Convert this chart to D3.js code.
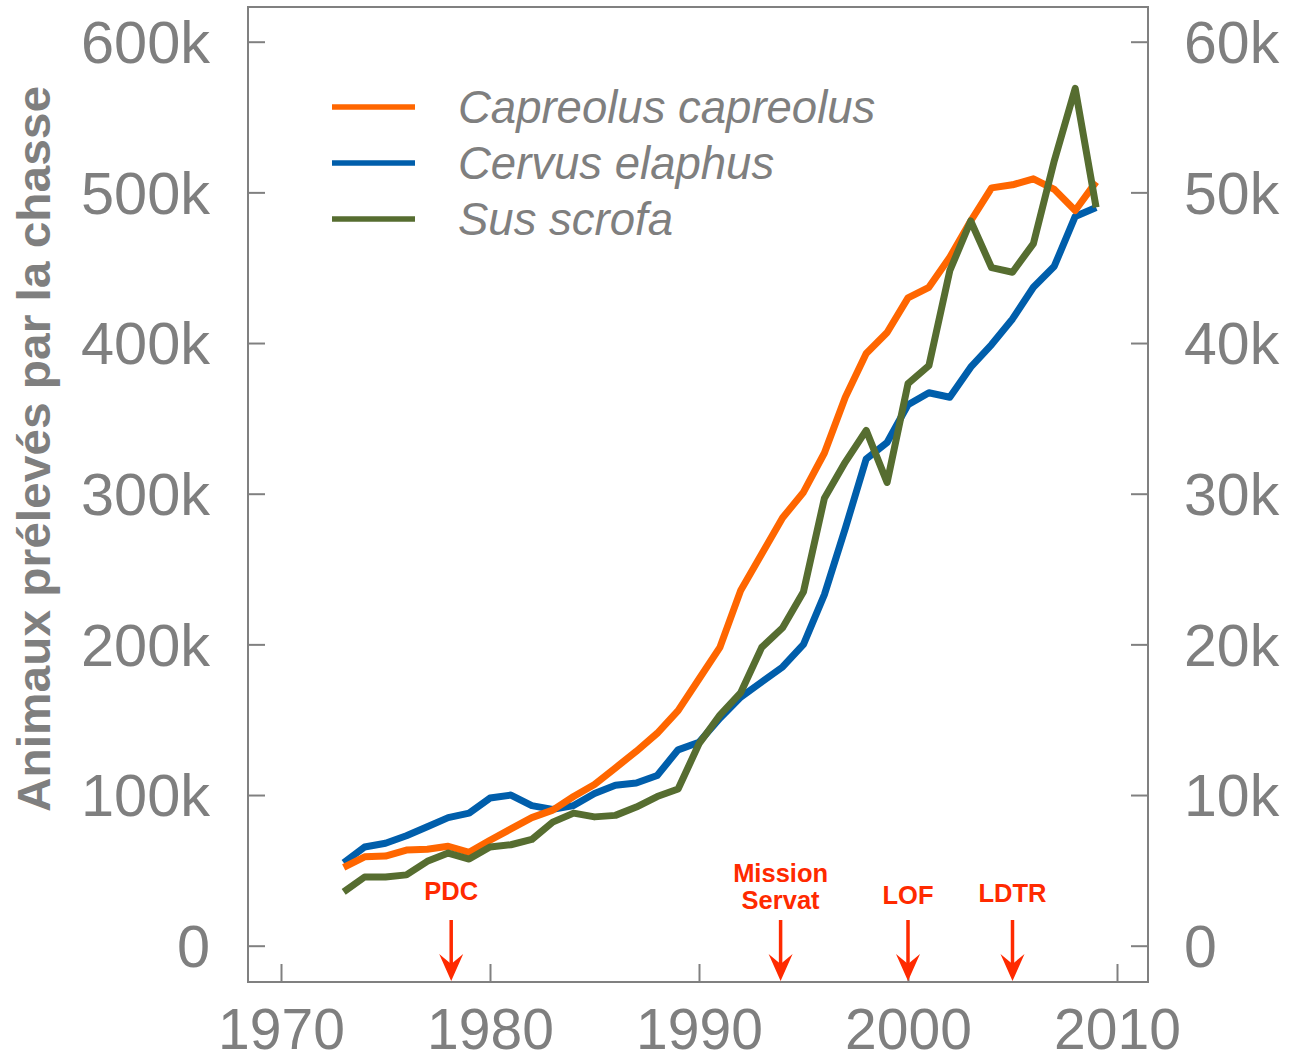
<!DOCTYPE html>
<html>
<head>
<meta charset="utf-8">
<script src="https://cdn.jsdelivr.net/npm/d3@7"></script>
<style>
  html, body { margin: 0; padding: 0; background: #fff; }
  svg { display: block; }
</style>
</head>
<body>
<svg id="chart" width="1292" height="1060"></svg>
<script>
// ---------- DATA ----------
const years = d3.range(1973, 2010);
// Capreolus capreolus (left axis, animals)
const capreolus = [52000, 59000, 59500, 63500, 64000, 66000, 62000, 70000, 77500, 85000,
  90000, 99000, 107000, 118000, 129000, 141000, 156000, 177000, 198000, 236000,
  260000, 284000, 301000, 327000, 364000, 393000, 407000, 430000, 437000, 457000,
  481000, 503000, 505000, 509000, 502000, 488000, 507000];
// Cervus elaphus (right axis, animals)
const cervus = [5500, 6550, 6800, 7300, 7900, 8500, 8800, 9800, 10000, 9300,
  9050, 9300, 10100, 10650, 10800, 11300, 13000, 13500, 15100, 16500,
  17500, 18500, 20000, 23300, 27700, 32300, 33400, 35900, 36700, 36400,
  38400, 39900, 41600, 43700, 45100, 48400, 49000];
// Sus scrofa (left axis, animals)
const sus = [35700, 45600, 45600, 47000, 56000, 61500, 57500, 65500, 67000, 70500,
  82000, 88000, 85500, 86500, 92000, 99000, 104000, 134000, 153000, 168000,
  198000, 211000, 235000, 297000, 321000, 342000, 307500, 373000, 385000, 448000,
  481000, 450000, 447000, 466000, 521000, 569000, 490000];

const seriesNames = ["Capreolus capreolus", "Cervus elaphus", "Sus scrofa"];
const seriesColors = ["#FF6600", "#005EAB", "#566D30"];

const xTicks = [1970, 1980, 1990, 2000, 2010];
const leftTicks = [0, 100000, 200000, 300000, 400000, 500000, 600000];
const rightTicks = [0, 10000, 20000, 30000, 40000, 50000, 60000];

const events = [
  { year: 1978, label: ["PDC"] },
  { year: 1994, label: ["Mission", "Servat"] },
  { year: 2000, label: ["LOF"] },
  { year: 2005, label: ["LDTR"] }
];
const yTitle = "Animaux prélevés par la chasse";

// ---------- LAYOUT ----------
const svg = d3.select("#chart");
const frame = { left: 248, right: 1148, top: 7, bottom: 982 };
const gray = "#7f7f7f";
const axisGray = "#808080";

const x = d3.scaleLinear().domain([1970, 2010]).range([281, 1117]);
const yL = d3.scaleLinear().domain([0, 600000]).range([945.7, 41.7]);
const yR = d3.scaleLinear().domain([0, 60000]).range([945.7, 41.7]);
const fmtK = d => d === 0 ? "0" : (d / 1000) + "k";

// frame
svg.append("rect")
  .attr("x", frame.left).attr("y", frame.top)
  .attr("width", frame.right - frame.left).attr("height", frame.bottom - frame.top)
  .attr("fill", "none").attr("stroke", axisGray).attr("stroke-width", 2);

const tickFont = "'Liberation Sans', Arial, sans-serif";

// left axis
const gL = svg.append("g").attr("transform", `translate(${frame.left},0)`)
  .call(d3.axisLeft(yL).tickValues(leftTicks).tickFormat(fmtK).tickSize(-17).tickPadding(38));
// right axis
const gR = svg.append("g").attr("transform", `translate(${frame.right},0)`)
  .call(d3.axisRight(yR).tickValues(rightTicks).tickFormat(fmtK).tickSize(-17).tickPadding(36));
// bottom axis
const gB = svg.append("g").attr("transform", `translate(0,${frame.bottom})`)
  .call(d3.axisBottom(x).tickValues(xTicks).tickFormat(d3.format("d")).tickSize(-18).tickPadding(27));

[gL, gR, gB].forEach(g => {
  g.select(".domain").remove();
  g.selectAll(".tick line").attr("stroke", axisGray).attr("stroke-width", 2);
  g.selectAll(".tick text").attr("fill", gray)
    .style("font-family", tickFont).style("font-size", "57px");
});
gL.selectAll(".tick text").style("font-size", "59.5px").attr("dy", "0.35em");
gR.selectAll(".tick text").style("font-size", "59px").attr("dy", "0.35em");

// y title
svg.append("text")
  .attr("transform", "translate(50,449) rotate(-90)")
  .attr("text-anchor", "middle")
  .attr("fill", gray)
  .attr("textLength", 726).attr("lengthAdjust", "spacingAndGlyphs")
  .style("font-family", tickFont).style("font-weight", "bold").style("font-size", "47px")
  .text(yTitle);

// lines
const data = [capreolus, cervus, sus];
const scales = [yL, yR, yL];
// draw order: cervus, capreolus, sus (green on top)
[1, 0, 2].forEach(i => {
  const line = d3.line().x((d, j) => x(years[j])).y(d => scales[i](d));
  svg.append("path")
    .datum(data[i])
    .attr("d", line)
    .attr("fill", "none")
    .attr("stroke", seriesColors[i])
    .attr("stroke-width", 7)
    .attr("stroke-linejoin", "round")
    .attr("stroke-linecap", "butt");
});

// legend
const legY = [107, 163, 219];
seriesNames.forEach((name, i) => {
  svg.append("line")
    .attr("x1", 332).attr("x2", 415).attr("y1", legY[i]).attr("y2", legY[i])
    .attr("stroke", seriesColors[i]).attr("stroke-width", 5.5);
  svg.append("text")
    .attr("x", 458).attr("y", legY[i]).attr("dy", "0.35em")
    .attr("fill", gray)
    .style("font-family", tickFont).style("font-style", "italic").style("font-size", "45.5px")
    .text(name);
});

// event annotations
const red = "#FF2A00";
events.forEach(ev => {
  const ex = x(ev.year) + (ev.year === 1978 ? 3 : 0) - (ev.year === 1994 ? 2 : 0);
  const lines = ev.label;
  const lastBaseline = lines.length > 1 ? 909 : (ev.label[0] === "PDC" ? 900 : (ev.label[0] === "LOF" ? 904 : 902));
  lines.forEach((t, k) => {
    svg.append("text")
      .attr("x", ex).attr("y", lastBaseline - (lines.length - 1 - k) * 27)
      .attr("text-anchor", "middle")
      .attr("fill", red)
      .style("font-family", tickFont).style("font-weight", "bold").style("font-size", "25.5px")
      .text(t);
  });
  svg.append("line")
    .attr("x1", ex).attr("x2", ex).attr("y1", 920).attr("y2", 970)
    .attr("stroke", red).attr("stroke-width", 3.5);
  svg.append("path")
    .attr("d", `M${ex - 12},954 L${ex},981 L${ex + 12},954 L${ex},964 Z`)
    .attr("fill", red);
});
</script>
</body>
</html>
